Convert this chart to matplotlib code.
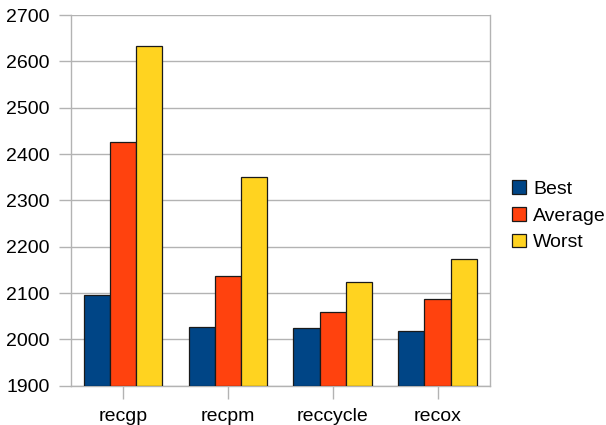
import matplotlib
matplotlib.use("Agg")
import matplotlib.pyplot as plt
import numpy as np

categories = ["recgp", "recpm", "reccycle", "recox"]
series_names = ["Best", "Average", "Worst"]
best = [2096, 2027, 2025, 2019]
average = [2427, 2137, 2060, 2088]
worst = [2633, 2350, 2124, 2174]
yticks = [1900, 2000, 2100, 2200, 2300, 2400, 2500, 2600, 2700]
colors = ["#004586", "#ff420e", "#ffd320"]

plt.rcParams['font.family'] = ['Liberation Sans', 'DejaVu Sans']
fs = 14

fig = plt.figure(figsize=(6.06, 4.25), dpi=100)
ax = fig.add_axes([70.7/606, 1-385.7/425, (490-70.7)/606, (385.7-15)/425])

x = np.arange(len(categories))
w = 0.25
for i, (vals, name) in enumerate(zip([best, average, worst], series_names)):
    ax.bar(x + (i-1)*w, np.array(vals) - 1900, width=w, bottom=1900,
           color=colors[i], edgecolor="#1a1a1a", linewidth=0.9, label=name, zorder=3)

ax.set_xlim(-0.5, len(categories)-0.5)
ax.set_ylim(1900, 2700)
ax.set_yticks(yticks)
ax.set_xticks(x)
ax.set_xticklabels(categories)
ax.grid(axis='y', color="#b3b3b3", linewidth=1, zorder=0)
ax.set_axisbelow(True)
for s in ax.spines.values():
    s.set_color("#b3b3b3")
    s.set_linewidth(1)
ax.spines['top'].set_visible(False)
ax.tick_params(axis='both', colors="#b3b3b3", length=9, width=1, labelsize=fs,
               labelcolor="#000000")
ax.tick_params(axis='y', pad=6)
ax.tick_params(axis='x', pad=7)

leg = fig.legend(loc='upper left', bbox_to_anchor=(512/606, 1-180.5/425), frameon=False,
                 fontsize=fs, handlelength=0.72, handleheight=0.67, handletextpad=0.36,
                 labelspacing=0.48, borderaxespad=0, borderpad=0)
for h in leg.legend_handles:
    h.set_edgecolor("#1a1a1a")

fig.savefig("out.png", dpi=100)
